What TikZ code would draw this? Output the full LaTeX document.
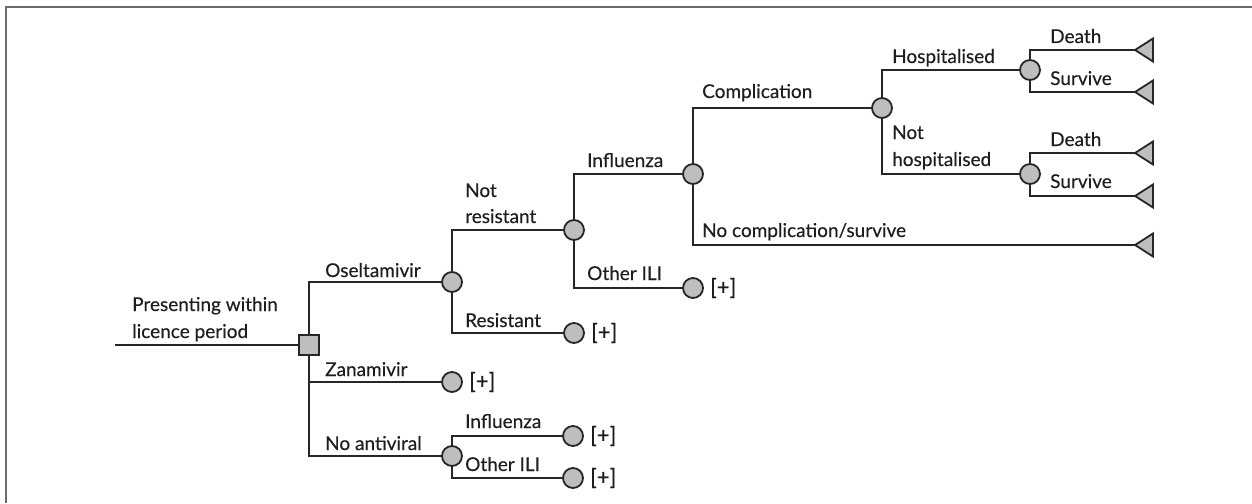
\documentclass[tikz,border=0pt]{standalone}
\usepackage{fontspec}
\setmainfont{Lato}[FakeBold=0.3]
\definecolor{linec}{HTML}{262626}
\definecolor{nodefill}{HTML}{BEBEBE}
\definecolor{framec}{HTML}{6B6B6B}
\definecolor{textc}{HTML}{1E1E1E}
\begin{document}
\begin{tikzpicture}[x=1pt,y=-1pt,
  branch/.style={draw=linec, line width=1.8pt},
  chance/.style={circle, draw=linec, fill=nodefill, line width=1.8pt, minimum size=20pt, inner sep=0pt},
  decision/.style={rectangle, draw=linec, fill=nodefill, line width=1.8pt, minimum size=20pt, inner sep=0pt},
  lbl/.style={anchor=base west, inner sep=0pt, text=textc, font=\fontsize{19}{23}\selectfont},
  plus/.style={anchor=west, inner sep=0pt, text=textc, font=\fontsize{22}{26}\selectfont},
  endtri/.pic={\draw[linec, fill=nodefill, line width=1.8pt, line join=miter] (0,0) -- (18,-11.5) -- (18,11.5) -- cycle;}
]
\useasboundingbox (0,0) rectangle (1252,503);
% frame
\draw[framec, line width=2pt] (6,503) -- (6,7) -- (1252,7);

% decision and chance nodes
\coordinate (start) at (115,345);
\node[decision] (d)  at (309,345) {};
\node[chance] (ose)  at (452,282) {};
\node[chance] (zan)  at (452,382) {};
\node[chance] (noav) at (452,456) {};
\node[chance] (nainf) at (573,436) {};
\node[chance] (naili) at (573,478) {};
\node[chance] (nres) at (574,230) {};
\node[chance] (res)  at (574,333) {};
\node[chance] (inf)  at (693,174) {};
\node[chance] (ili)  at (693,288) {};
\node[chance] (comp) at (882,108) {};
\node[chance] (hosp) at (1030,70) {};
\node[chance] (nhosp) at (1030,174) {};
% terminal points (triangle tips)
\coordinate (t1) at (1135,50);
\coordinate (t2) at (1135,92);
\coordinate (t3) at (1135,153);
\coordinate (t4) at (1135,196);
\coordinate (t5) at (1135,245);

% branches
\draw[branch] (start) -- (d);
\draw[branch] (d) |- (ose);
\draw[branch] (d) |- (zan);
\draw[branch] (d) |- (noav);
\draw[branch] (noav) |- (nainf);
\draw[branch] (noav) |- (naili);
\draw[branch] (ose) |- (nres);
\draw[branch] (ose) |- (res);
\draw[branch] (nres) |- (inf);
\draw[branch] (nres) |- (ili);
\draw[branch] (inf) |- (comp);
\draw[branch] (inf) |- (t5);
\draw[branch] (comp) |- (hosp);
\draw[branch] (comp) |- (nhosp);
\draw[branch] (hosp) |- (t1);
\draw[branch] (hosp) |- (t2);
\draw[branch] (nhosp) |- (t3);
\draw[branch] (nhosp) |- (t4);

% terminal triangles
\foreach \t in {t1,t2,t3,t4,t5}{\pic at (\t) {endtri};}

% branch labels
\node[lbl] (l0a) at (132,311) {Presenting within};
\node[lbl] (l0b) at (132,338) {licence period};
\node[lbl] (l1) at (325,277) {Oseltamivir};
\node[lbl] (l2) at (325,376) {Zanamivir};
\node[lbl] (l3) at (325,450) {No antiviral};
\node[lbl] (l4) at (465,428) {Influenza};
\node[lbl] (l5) at (465,471) {Other ILI};
\node[lbl] (l6a) at (465,197) {Not};
\node[lbl] (l6b) at (465,223) {resistant};
\node[lbl] (l7) at (465,327) {Resistant};
\node[lbl] (l8) at (587,167) {Influenza};
\node[lbl] (l9) at (587,280) {Other ILI};
\node[lbl] (l10) at (702,98) {Complication};
\node[lbl] (l11) at (702,237) {No complication/survive};
\node[lbl] (l12) at (892,63) {Hospitalised};
\node[lbl] (l13a) at (892,139) {Not};
\node[lbl] (l13b) at (892,166) {hospitalised};
\node[lbl] (l14) at (1050,43) {Death};
\node[lbl] (l15) at (1050,85) {Survive};
\node[lbl] (l16) at (1050,146) {Death};
\node[lbl] (l17) at (1050,188) {Survive};

% collapsed subtrees
\node[plus] (p1) at ([xshift=6pt]zan.east) {[+]};
\node[plus] (p2) at ([xshift=6pt]nainf.east) {[+]};
\node[plus] (p3) at ([xshift=6pt]naili.east) {[+]};
\node[plus] (p4) at ([xshift=6pt]res.east) {[+]};
\node[plus] (p5) at ([xshift=6pt]ili.east) {[+]};
\end{tikzpicture}
\end{document}
